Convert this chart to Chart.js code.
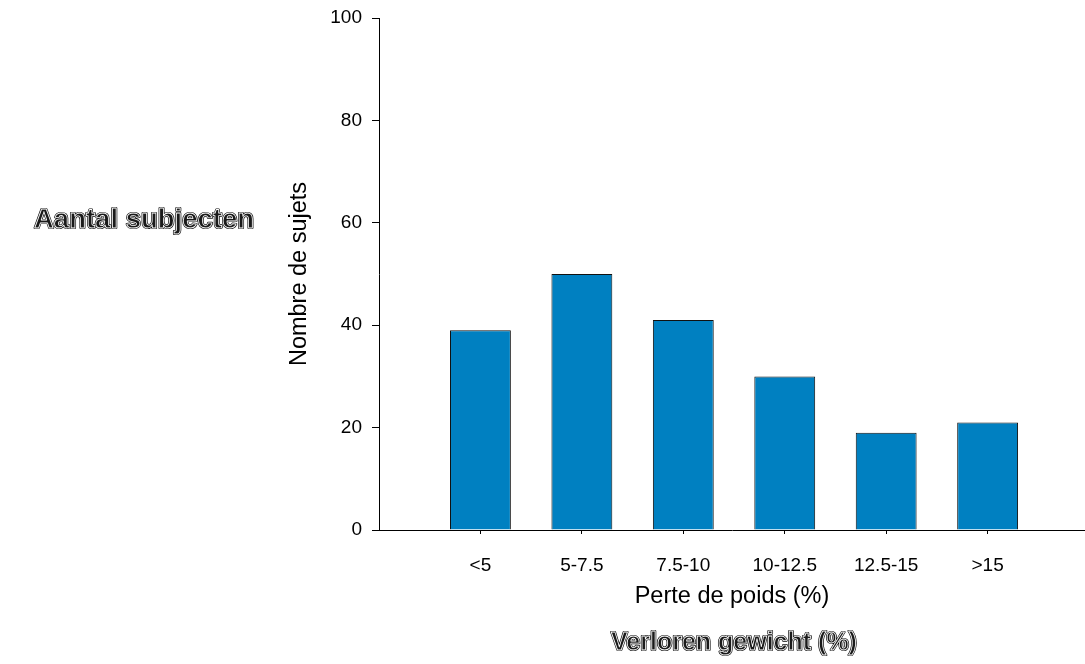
<!DOCTYPE html>
<html>
<head>
<meta charset="utf-8">
<script src="https://cdn.jsdelivr.net/npm/chart.js@4"></script>
<style>
  html, body { margin: 0; padding: 0; background: #fff; }
  #wrap { width: 1085px; height: 664px; }
</style>
</head>
<body>
<div id="wrap"><canvas id="chart"></canvas></div>
<script>
// data
const categories = ['<5', '5-7.5', '7.5-10', '10-12.5', '12.5-15', '>15'];
const subjects = [39, 50, 41, 30, 19, 21];
const yTicks = [0, 20, 40, 60, 80, 100];

const FONT = "'Liberation Sans', Arial, sans-serif";

// Dutch overlay labels, drawn with a dark outline look
const overlayLabels = {
  id: 'overlayLabels',
  afterDraw(chart) {
    const ctx = chart.ctx;
    const draw = (text, x, y, size) => {
      ctx.save();
      ctx.font = 'bold ' + size + 'px ' + FONT;
      ctx.textAlign = 'center';
      ctx.textBaseline = 'alphabetic';
      ctx.lineJoin = 'round';
      ctx.strokeStyle = '#000';
      ctx.lineWidth = 2.2;
      ctx.strokeText(text, x, y);
      ctx.fillStyle = '#1a1a1a';
      ctx.fillText(text, x, y);
      ctx.strokeStyle = '#fff';
      ctx.lineWidth = 0.8;
      ctx.strokeText(text, x, y);
      ctx.restore();
    };
    draw('Aantal subjecten', 144, 228, 27.5);
    draw('Verloren gewicht (%)', 734, 650, 25);
  }
};

const points = subjects.map((v, i) => ({ x: i, y: v }));

new Chart(document.getElementById('chart'), {
  type: 'bar',
  data: {
    datasets: [{
      data: points,
      backgroundColor: '#0080C1',
      borderColor: '#111',
      borderWidth: 1,
      barPercentage: 1,
      categoryPercentage: 0.6
    }]
  },
  options: {
    responsive: true,
    maintainAspectRatio: false,
    animation: false,
    layout: { padding: { left: 285, top: 18, right: 0, bottom: 53 } },
    plugins: { legend: { display: false }, tooltip: { enabled: false } },
    scales: {
      x: {
        type: 'linear',
        offset: false,
        min: -1,
        max: 5.96,
        afterBuildTicks: (scale) => {
          scale.ticks = categories.map((c, i) => ({ value: i }));
        },
        afterFit: (scale) => { scale.height = 81; },
        border: { display: true, color: '#000', width: 1 },
        grid: { offset: false, drawOnChartArea: false, drawTicks: true, tickLength: 4, color: '#000' },
        ticks: {
          color: '#000',
          padding: 20,
          autoSkip: false,
          maxRotation: 0,
          font: { family: FONT, size: 19 },
          callback: (v) => categories[v] ?? ''
        },
        title: {
          display: true,
          text: 'Perte de poids (%)',
          color: '#000',
          padding: 0,
          font: { family: FONT, size: 23.5 }
        }
      },
      y: {
        min: 0,
        max: 100,
        afterBuildTicks: (scale) => {
          scale.ticks = yTicks.map((v) => ({ value: v }));
        },
        afterFit: (scale) => {
          scale.width = 94;
          scale.paddingTop = 0;
          scale.paddingBottom = 0;
        },
        border: { display: true, color: '#000', width: 1 },
        grid: { drawOnChartArea: false, drawTicks: true, tickLength: 7, color: '#000' },
        ticks: {
          color: '#000',
          padding: 10,
          font: { family: FONT, size: 19 }
        },
        title: {
          display: true,
          text: 'Nombre de sujets',
          color: '#000',
          padding: 0,
          font: { family: FONT, size: 23.5 }
        }
      }
    }
  },
  plugins: [overlayLabels]
});
</script>
</body>
</html>
